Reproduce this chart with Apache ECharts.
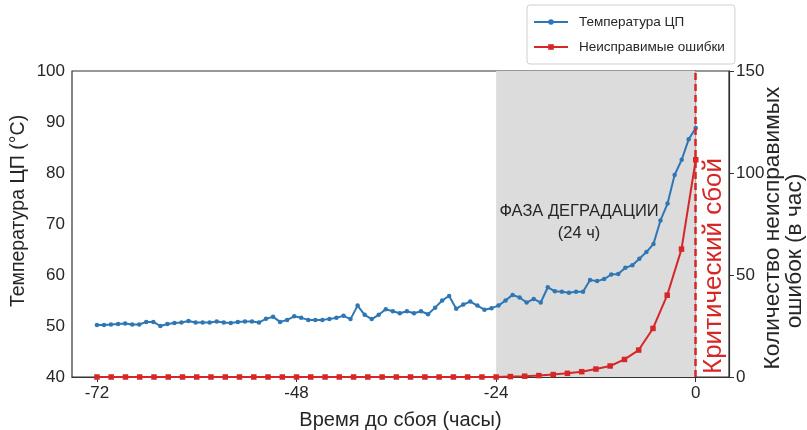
<!DOCTYPE html>
<html>
<head>
<meta charset="utf-8">
<script src="https://cdn.jsdelivr.net/npm/echarts@6/dist/echarts.min.js"></script>
<style>html,body{margin:0;padding:0;background:#fff}#c{width:807px;height:430px}</style>
</head>
<body>
<div id="c"></div>
<script>
// Hours before failure (blue series samples)
const tempHours = [-72.00,-71.15,-70.31,-69.46,-68.61,-67.76,-66.92,-66.07,-65.22,-64.38,
-63.53,-62.68,-61.84,-60.99,-60.14,-59.29,-58.45,-57.60,-56.75,-55.91,
-55.06,-54.21,-53.36,-52.52,-51.67,-50.82,-49.98,-49.13,-48.28,-47.44,
-46.59,-45.74,-44.89,-44.05,-43.20,-42.35,-41.51,-40.66,-39.81,-38.96,
-38.12,-37.27,-36.42,-35.58,-34.73,-33.88,-33.04,-32.19,-31.34,-30.49,
-29.65,-28.80,-27.95,-27.11,-26.26,-25.41,-24.56,-23.72,-22.87,-22.02,
-21.18,-20.33,-19.48,-18.64,-17.79,-16.94,-16.09,-15.25,-14.40,-13.55,
-12.71,-11.86,-11.01,-10.16,-9.32,-8.47,-7.62,-6.78,-5.93,-5.08,
-4.24,-3.39,-2.54,-1.69,-0.85,0.00];
const cpuTemp = [50.2,50.2,50.3,50.4,50.5,50.3,50.3,50.8,50.8,50.0,
50.4,50.6,50.7,51.0,50.7,50.7,50.7,50.9,50.7,50.6,
50.8,50.9,50.9,50.7,51.4,51.8,50.8,51.2,51.9,51.6,
51.2,51.2,51.2,51.35,51.6,52.0,51.35,54.0,52.2,51.35,
52.2,53.3,52.9,52.5,52.9,52.5,52.9,52.3,53.6,55.0,
55.9,53.4,54.2,54.8,54.0,53.2,53.5,54.0,55.0,56.1,
55.6,54.6,55.3,54.6,57.6,56.8,56.7,56.5,56.7,56.7,
59.0,58.8,59.2,60.1,60.2,61.4,61.9,63.2,64.5,66.1,
70.7,74.0,79.6,82.6,86.6,88.8];
// Hours before failure (red series samples)
const errHours = [-72.00,-70.29,-68.57,-66.86,-65.14,-63.43,-61.71,-60.00,-58.29,-56.57,
-54.86,-53.14,-51.43,-49.71,-48.00,-46.29,-44.57,-42.86,-41.14,-39.43,
-37.71,-36.00,-34.29,-32.57,-30.86,-29.14,-27.43,-25.71,-24.00,-22.29,
-20.57,-18.86,-17.14,-15.43,-13.71,-12.00,-10.29,-8.57,-6.86,-5.14,
-3.43,-1.71,0.00];
const errors = [0,0,0,0,0,0,0,0,0,0,
0,0,0,0,0,0,0,0,0,0,
0,0,0,0,0,0,0,0,0,0.2,
0.4,0.7,1.2,1.8,2.6,3.9,5.4,8.6,13.2,23.8,
40.1,62.7,106.5];
const xTicks = [-72,-48,-24,0];
const phaseStart = -24, failureAt = 0;
const seriesNames = ['Температура ЦП','Неисправимые ошибки'];

const FONT = 'Liberation Sans, Arial, sans-serif';
const tc = '#262626';
const chart = echarts.init(document.getElementById('c'), null, {renderer:'canvas'});
const zipPts = (xs, ys) => xs.map((x,i)=>[x, ys[i]]);
chart.setOption({
  animation:false,
  textStyle:{fontFamily:FONT},
  grid:{left:72, right:78, top:71, bottom:53, outerBoundsMode:'none', containLabel:false,
    show:true, borderColor:'#333', borderWidth:1.2, backgroundColor:'transparent'},
  legend:{
    orient:'vertical', left:527, top:5, padding:[10,10,10,6], itemGap:11,
    itemWidth:34, itemHeight:7, borderColor:'#cfcfcf', borderWidth:1, borderRadius:3,
    backgroundColor:'#fff',
    textStyle:{fontSize:13.5, color:tc, fontFamily:FONT, padding:[0,0,0,6]},
    data:seriesNames
  },
  xAxis:{
    type:'value', min:-75, max:4,
    name:'Время до сбоя (часы)', nameLocation:'middle', nameGap:33, nameMoveOverlap:false,
    nameTextStyle:{fontSize:20, color:tc, fontFamily:FONT},
    axisLine:{show:true, lineStyle:{color:'#333', width:1.2}},
    axisTick:{show:true, customValues:xTicks, length:5, lineStyle:{color:'#333'}},
    axisLabel:{customValues:xTicks, fontSize:17, color:tc, margin:8, fontFamily:FONT},
    splitLine:{show:false}
  },
  yAxis:[{
    type:'value', min:40, max:100, interval:10, position:'left',
    name:'Температура ЦП (°C)', nameLocation:'middle', nameGap:43, nameMoveOverlap:false,
    nameTextStyle:{fontSize:19.5, color:tc, fontFamily:FONT, padding:[0,0,0,26]},
    axisLine:{show:true, lineStyle:{color:'#333', width:1.2}},
    axisTick:{show:true, length:5, lineStyle:{color:'#333'}},
    axisLabel:{fontSize:17, color:tc, margin:7, fontFamily:FONT},
    splitLine:{show:false}
  },{
    type:'value', min:0, max:150, interval:50, position:'right',
    name:'{a|Количество неисправимых}\n{b|ошибок (в час)}', nameLocation:'middle', nameGap:33,
    nameRotate:90, nameMoveOverlap:false,
    nameTextStyle:{fontSize:22.7, color:tc, fontFamily:FONT, lineHeight:22,
      rich:{a:{fontSize:22.7, color:tc, fontFamily:FONT, lineHeight:22, padding:[0,8,0,0]},
            b:{fontSize:22.7, color:tc, fontFamily:FONT, lineHeight:22, padding:[0,54,0,0]}}},
    axisLine:{show:true, lineStyle:{color:'#333', width:1.2}},
    axisTick:{show:true, length:5, lineStyle:{color:'#333'}},
    axisLabel:{fontSize:17, color:tc, margin:7, fontFamily:FONT},
    splitLine:{show:false}
  }],
  series:[{
    name:seriesNames[0], type:'line', yAxisIndex:0, z:3,
    data:zipPts(tempHours, cpuTemp),
    symbol:'circle', symbolSize:4.5, showAllSymbol:true,
    lineStyle:{color:'#2f77b4', width:2}, itemStyle:{color:'#2f77b4'},
    markArea:{silent:true, itemStyle:{color:'#dcdcdc'}, data:[[{xAxis:phaseStart},{xAxis:failureAt}]]}
  },{
    name:seriesNames[1], type:'line', yAxisIndex:1, z:4,
    data:zipPts(errHours, errors),
    symbol:'rect', symbolSize:5.5, showAllSymbol:true,
    lineStyle:{color:'#d62728', width:2}, itemStyle:{color:'#d62728'},
    markLine:{silent:true, symbol:'none', label:{show:false},
      lineStyle:{color:'#d62728', type:[7,4], width:2.5},
      data:[{xAxis:failureAt}]}
  }],
  graphic:[{
    type:'text', x:579, y:222, z:100,
    style:{text:'ФАЗА ДЕГРАДАЦИИ\n(24 ч)', fontSize:16.5, fill:tc, fontFamily:FONT,
      textAlign:'center', textVerticalAlign:'middle', lineHeight:22}
  },{
    type:'text', x:701, y:374, z:100, rotation:Math.PI/2,
    style:{text:'Критический сбой', fontSize:26, fill:'#d62728', fontFamily:FONT, textAlign:'left', textVerticalAlign:'top'}
  }]
});
</script>
</body>
</html>
